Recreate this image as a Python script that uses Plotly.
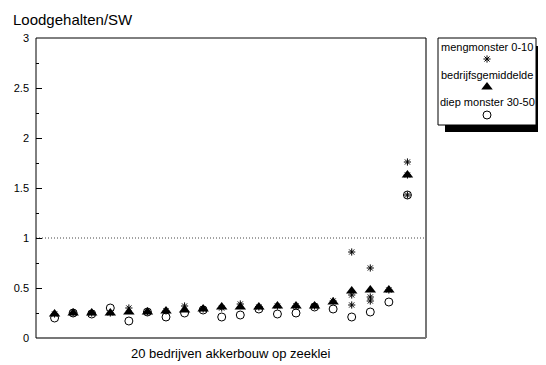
import plotly.graph_objects as go

# ---- data ----
bedrijf = list(range(1, 21))
gemiddelde = [0.24, 0.25, 0.25, 0.25, 0.26, 0.26, 0.27, 0.28, 0.29, 0.31,
              0.31, 0.31, 0.32, 0.32, 0.32, 0.36, 0.47, 0.48, 0.48, 1.63]
diep = [0.20, 0.25, 0.24, 0.30, 0.17, 0.26, 0.21, 0.25, 0.28, 0.21,
        0.23, 0.29, 0.24, 0.25, 0.31, 0.29, 0.21, 0.26, 0.36, 1.43]
meng_bedrijf = [1, 2, 3, 4, 5, 6, 7, 8, 9, 10, 11, 12, 13, 14, 15, 16,
                17, 17, 17, 18, 18, 18, 19, 20, 20, 20]
meng_waarde = [0.24, 0.25, 0.25, 0.25, 0.30, 0.26, 0.27, 0.32, 0.29, 0.30,
               0.34, 0.31, 0.32, 0.32, 0.32, 0.37,
               0.86, 0.43, 0.33, 0.70, 0.41, 0.37, 0.48, 1.76, 1.63, 1.43]
y_ticks = [0, 0.5, 1, 1.5, 2, 2.5, 3]
y_ticklabels = ["0", "0.5", "1", "1.5", "2", "2.5", "3"]
legend_labels = ["mengmonster 0-10", "bedrijfsgemiddelde", "diep monster 30-50"]

FONT = "Liberation Sans, Arial, sans-serif"
OFF = 8                      # page body margin
W, H = 546 - OFF, 365 - OFF  # figure size
# target page pixels of the main plot area
PL, PT, PR, PB = 36, 38, 426, 338
L, T = PL - OFF, PT - OFF
B = H - (PB - OFF)
R = 2
PW = W - L - R
PH = H - T - B

def px(x):   # page pixel -> paper x
    return (x - OFF - L) / PW

def py(y):   # page pixel -> paper y
    return (H - B - (y - OFF)) / PH

fig = go.Figure()

fig.add_trace(go.Scatter(x=bedrijf, y=diep, mode="markers",
                         marker=dict(symbol="circle-open", size=8, color="black",
                                     line=dict(width=1, color="black")),
                         showlegend=False))
fig.add_trace(go.Scatter(x=bedrijf, y=gemiddelde, mode="markers",
                         marker=dict(symbol="triangle-up", size=10, color="black",
                                     line=dict(width=0)),
                         showlegend=False))
fig.add_trace(go.Scatter(x=meng_bedrijf, y=meng_waarde, mode="markers",
                         marker=dict(symbol="asterisk-open", size=6, color="black",
                                     line=dict(width=1, color="black")),
                         showlegend=False))

# legend markers on an overlay axis measured in page pixels
leg_x = [487, 487, 487]
leg_y = [59, 87, 115]
leg_sym = ["asterisk-open", "triangle-up", "circle-open"]
leg_size = [6, 10, 8]
for xx, yy, s, sz in zip(leg_x, leg_y, leg_sym, leg_size):
    fig.add_trace(go.Scatter(x=[xx], y=[yy], mode="markers", xaxis="x2", yaxis="y2",
                             marker=dict(symbol=s, size=sz, color="black",
                                         line=dict(width=1 if s != "triangle-up" else 0,
                                                   color="black")),
                             showlegend=False, hoverinfo="skip"))

shapes = []
# legend shadow + box
shapes.append(dict(type="rect", xref="paper", yref="paper",
                   x0=px(445), x1=px(543), y0=py(132), y1=py(46),
                   fillcolor="black", line=dict(width=0), layer="below"))
shapes.append(dict(type="rect", xref="paper", yref="paper",
                   x0=px(438), x1=px(536), y0=py(125), y1=py(38),
                   fillcolor="white", line=dict(color="black", width=1), layer="below"))
# dotted reference line at 1
shapes.append(dict(type="line", xref="x domain", yref="y", x0=0, x1=1, y0=1, y1=1,
                   line=dict(color="#444444", width=1, dash="1px,2px"), layer="below"))
# frame
shapes.append(dict(type="line", xref="x domain", yref="y domain", x0=1, x1=1, y0=0, y1=1,
                   line=dict(color="#777777", width=2)))
shapes.append(dict(type="line", xref="x domain", yref="y domain", x0=0, x1=1, y0=0, y1=0,
                   line=dict(color="#777777", width=2)))
shapes.append(dict(type="line", xref="x domain", yref="y domain", x0=0, x1=1, y0=1, y1=1,
                   line=dict(color="black", width=1)))
shapes.append(dict(type="line", xref="x domain", yref="y domain", x0=0, x1=0, y0=0, y1=1,
                   line=dict(color="black", width=1)))

annotations = []
for txt, yy in zip(legend_labels, [47, 74.5, 102]):
    annotations.append(dict(text=txt, xref="paper", yref="paper", x=px(487), y=py(yy),
                            xanchor="center", yanchor="middle", showarrow=False,
                            font=dict(family=FONT, size=11, color="black")))
annotations.append(dict(text="Loodgehalten/SW", xref="paper", yref="paper",
                        x=px(11), y=py(20), xanchor="left", yanchor="middle",
                        showarrow=False, font=dict(family=FONT, size=15, color="black")))
annotations.append(dict(text="20 bedrijven akkerbouw op zeeklei", xref="paper", yref="paper",
                        x=px(231), y=py(354), xanchor="center", yanchor="middle",
                        showarrow=False, font=dict(family=FONT, size=13, color="black")))

fig.update_layout(
    width=W, height=H,
    margin=dict(l=L, r=R, t=T, b=B, autoexpand=False),
    paper_bgcolor="white", plot_bgcolor="rgba(0,0,0,0)",
    font=dict(family=FONT, size=11, color="black"),
    shapes=shapes, annotations=annotations,
    xaxis=dict(domain=[0, px(PR)], range=[0, 21], showgrid=False, zeroline=False,
               showticklabels=False, ticks="", showline=False, automargin=False),
    yaxis=dict(range=[0, 3], showgrid=False, zeroline=False, showline=False,
               tickmode="array", tickvals=y_ticks, ticktext=y_ticklabels,
               ticks="inside", ticklen=6, tickcolor="black", tickwidth=1,
               minor=dict(dtick=0.25, ticks="inside", ticklen=3, tickcolor="black"),
               tickfont=dict(family=FONT, size=11), ticklabelstandoff=6,
               automargin=False),
    xaxis2=dict(domain=[0, 1], range=[PL, W + OFF - R], visible=False, anchor="y2",
                automargin=False),
    yaxis2=dict(domain=[0, 1], range=[PB, PT], visible=False, anchor="x2",
                automargin=False),
    showlegend=False,
)

fig.write_html("out.html")
